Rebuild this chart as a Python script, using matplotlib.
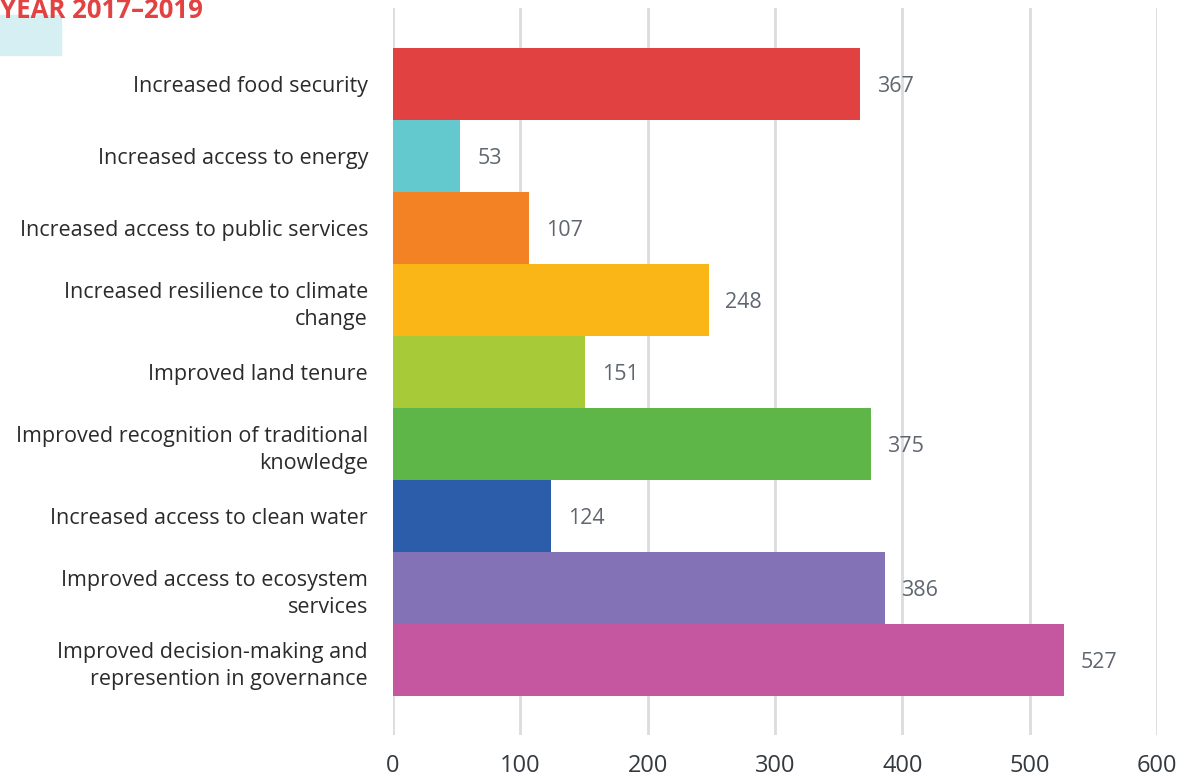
import matplotlib
matplotlib.use("Agg")
import matplotlib.pyplot as plt
from matplotlib.patches import Rectangle

categories = [
    "Increased food security",
    "Increased access to energy",
    "Increased access to public services",
    "Increased resilience to climate\nchange",
    "Improved land tenure",
    "Improved recognition of traditional\nknowledge",
    "Increased access to clean water",
    "Improved access to ecosystem\nservices",
    "Improved decision-making and\nrepresention in governance",
]
values = [367, 53, 107, 248, 151, 375, 124, 386, 527]
colors = ["#e24141", "#64c9ce", "#f28224", "#fab617", "#a7cb38",
          "#5eb649", "#2b5daa", "#8372b6", "#c457a0"]
xticks = [0, 100, 200, 300, 400, 500, 600]
title = "YEAR 2017\u20132019"

plt.rcParams["font.family"] = ["Open Sans", "DejaVu Sans"]

fig = plt.figure(figsize=(11.93, 7.78), dpi=100)
ax = fig.add_axes([393 / 1193, 1 - 735 / 778, (1157 - 393) / 1193, 727 / 778])

ypos = list(range(len(categories)))
ax.barh(ypos, values, height=1.0, color=colors, zorder=3)

for y, v in zip(ypos, values):
    ax.annotate(str(v), (v, y), xytext=(12, -1.5), textcoords="offset points",
                ha="left", va="center", fontsize=15.5, color="#5f6670")

ax.set_xlim(0, 600)
ax.set_ylim(9.04, -1.056)
ax.set_xticks(xticks)
ax.set_xticklabels([str(t) for t in xticks], fontsize=17, color="#333a40",
                   family=["Liberation Sans Narrow", "Open Sans"])
ax.set_yticks(ypos)
ax.set_yticklabels(categories, fontsize=15.5, color="#2b2b2b", linespacing=1.42)
for lbl in ax.get_yticklabels():
    lbl.set_y(lbl.get_position()[1])
ax.tick_params(axis="both", length=0)
ax.tick_params(axis="x", pad=14)
ax.tick_params(axis="y", pad=18)
ax.xaxis.grid(True, color="#dcdcdc", linewidth=2, zorder=0)
for s in ax.spines.values():
    s.set_visible(False)

# header block and title at the top-left
fig.patches.append(Rectangle((0, 1 - 55 / 778), 61 / 1193, 40 / 778,
                             transform=fig.transFigure, color="#d6eff2",
                             zorder=0))
fig.text(0, 1 - 18 / 778, title, fontsize=18.5, fontweight="bold",
         color="#e34242", ha="left", va="baseline")

fig.savefig("out.png", dpi=100)
